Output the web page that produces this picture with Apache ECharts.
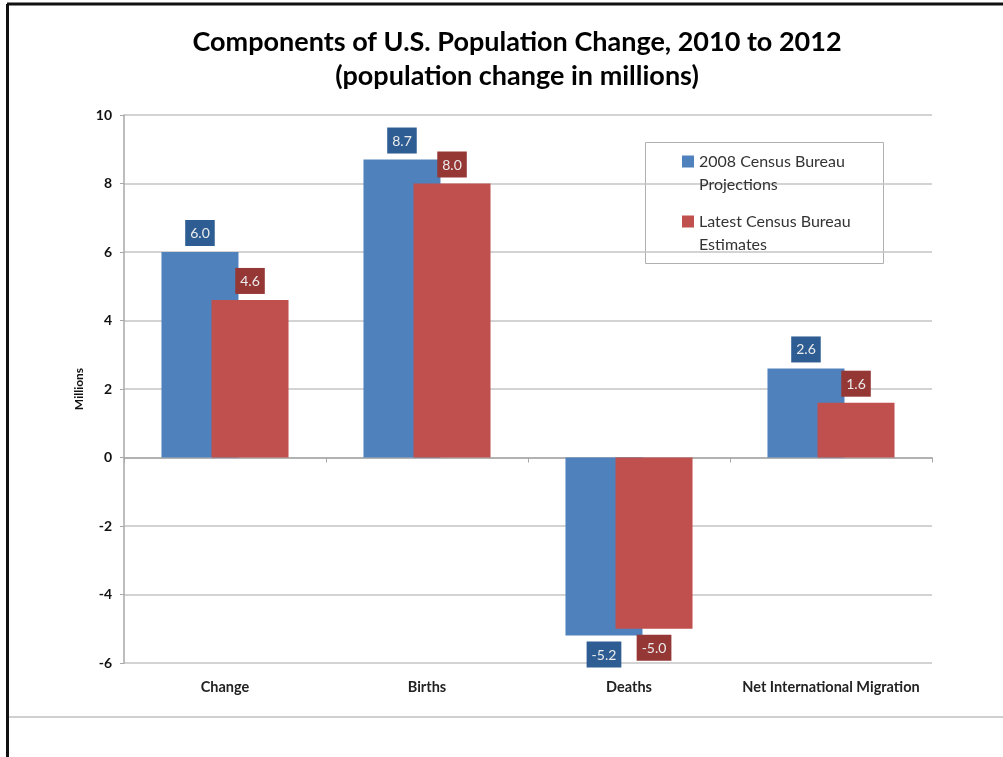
<!DOCTYPE html>
<html>
<head>
<meta charset="utf-8">
<script src="https://cdn.jsdelivr.net/npm/echarts@6/dist/echarts.min.js"></script>
<style>
html,body{margin:0;padding:0;background:#fff;}
#chart{width:1003px;height:757px;}
</style>
</head>
<body>
<div id="chart"></div>
<script>
const categories = ['Change', 'Births', 'Deaths', 'Net International Migration'];
const projections2008 = [6.0, 8.7, -5.2, 2.6];
const latestEstimates = [4.6, 8.0, -5.0, 1.6];
const seriesNames = ['2008 Census Bureau Projections', 'Latest Census Bureau Estimates'];
const yTicks = [-6, -4, -2, 0, 2, 4, 6, 8, 10];

const FONT = 'Lato, "Open Sans", sans-serif';

function makeData(values) {
  return values.map(v => ({
    value: v,
    label: {
      position: v < 0 ? 'bottom' : 'top'
    }
  }));
}

function labelStyle(bg) {
  return {
    show: true,
    distance: 6,
    formatter: p => p.value.toFixed(1),
    backgroundColor: bg,
    color: '#ececec',
    fontFamily: FONT,
    fontSize: 14,
    padding: [6, 5, 5, 5],
    lineHeight: 15
  };
}

const legendIcon = 'path://M0,0h0.05v0.05h-0.05z M0,5.5h12v12h-12z M0,45.95h0.05v0.05h-0.05z';

const chart = echarts.init(document.getElementById('chart'), null, {renderer: 'canvas'});
chart.setOption({
  animation: false,
  backgroundColor: '#fff',
  title: {
    text: 'Components of U.S. Population Change, 2010 to 2012\n(population change in millions)',
    left: 512,
    textAlign: 'center',
    top: 20,
    textStyle: {
      fontFamily: FONT,
      fontWeight: 'bold',
      fontSize: 27,
      lineHeight: 34,
      color: '#000'
    }
  },
  legend: {
    orient: 'vertical',
    left: 677,
    top: 145,
    itemWidth: 12,
    itemHeight: 46,
    itemGap: 14,
    icon: legendIcon,
    symbolKeepAspect: false,
    data: seriesNames,
    formatter: name => name === seriesNames[0] ? '2008 Census Bureau\nProjections' : 'Latest Census Bureau\nEstimates',
    textStyle: {
      fontFamily: FONT,
      fontSize: 16,
      lineHeight: 23,
      color: '#333'
    }
  },
  graphic: [
    {type: 'rect', z: -1, shape: {x: 645.5, y: 142.5, width: 238, height: 121}, style: {fill: '#fff', stroke: '#b0b0b0', lineWidth: 1}},
    {type: 'line', shape: {x1: 7, y1: 4, x2: 1003, y2: 4}, style: {stroke: '#111', lineWidth: 3}},
    {type: 'line', shape: {x1: 7.5, y1: 4, x2: 7.5, y2: 757}, style: {stroke: '#111', lineWidth: 3}},
    {type: 'line', shape: {x1: 9, y1: 717, x2: 1003, y2: 717}, style: {stroke: '#d0d0d0', lineWidth: 2}}
  ],
  grid: {
    left: 124,
    right: 71,
    top: 115,
    bottom: 94,
    containLabel: false
  },
  xAxis: [
    {
      type: 'category',
      data: categories,
      axisLine: {onZero: true, lineStyle: {color: '#a8a8a8', width: 1.5}},
      axisTick: {show: true, length: 5, inside: false, lineStyle: {color: '#a8a8a8'}},
      axisLabel: {show: false}
    },
    {
      type: 'category',
      data: categories,
      position: 'bottom',
      axisLine: {show: false, onZero: false},
      axisTick: {show: false},
      axisLabel: {
        show: true,
        interval: 0,
        margin: 17,
        fontFamily: FONT,
        fontWeight: 'bold',
        fontSize: 14.5,
        color: '#222'
      }
    }
  ],
  yAxis: {
    type: 'value',
    min: -6,
    max: 10,
    interval: 2,
    name: 'Millions',
    nameLocation: 'middle',
    nameRotate: 90,
    nameGap: 38,
    nameTextStyle: {fontFamily: FONT, fontWeight: 'bold', fontSize: 12, color: '#111'},
    axisLine: {show: true, lineStyle: {color: '#a8a8a8', width: 1.5}},
    axisTick: {show: true, length: 4, lineStyle: {color: '#a8a8a8'}},
    axisLabel: {
      margin: 12,
      fontFamily: FONT,
      fontWeight: 'bold',
      fontSize: 14,
      color: '#111',
      formatter: v => yTicks.includes(v) ? String(v) : ''
    },
    splitLine: {show: true, lineStyle: {color: '#c4c4c4', width: 1.5}}
  },
  series: [
    {
      name: seriesNames[0],
      type: 'bar',
      xAxisIndex: 0,
      barWidth: 77,
      barGap: '-35%',
      itemStyle: {color: '#4F81BD'},
      label: labelStyle('#2E5D93'),
      data: makeData(projections2008)
    },
    {
      name: seriesNames[1],
      type: 'bar',
      xAxisIndex: 0,
      barWidth: 77,
      barGap: '-35%',
      itemStyle: {color: '#C0504D'},
      label: labelStyle('#953735'),
      data: makeData(latestEstimates)
    }
  ]
});
</script>
</body>
</html>
